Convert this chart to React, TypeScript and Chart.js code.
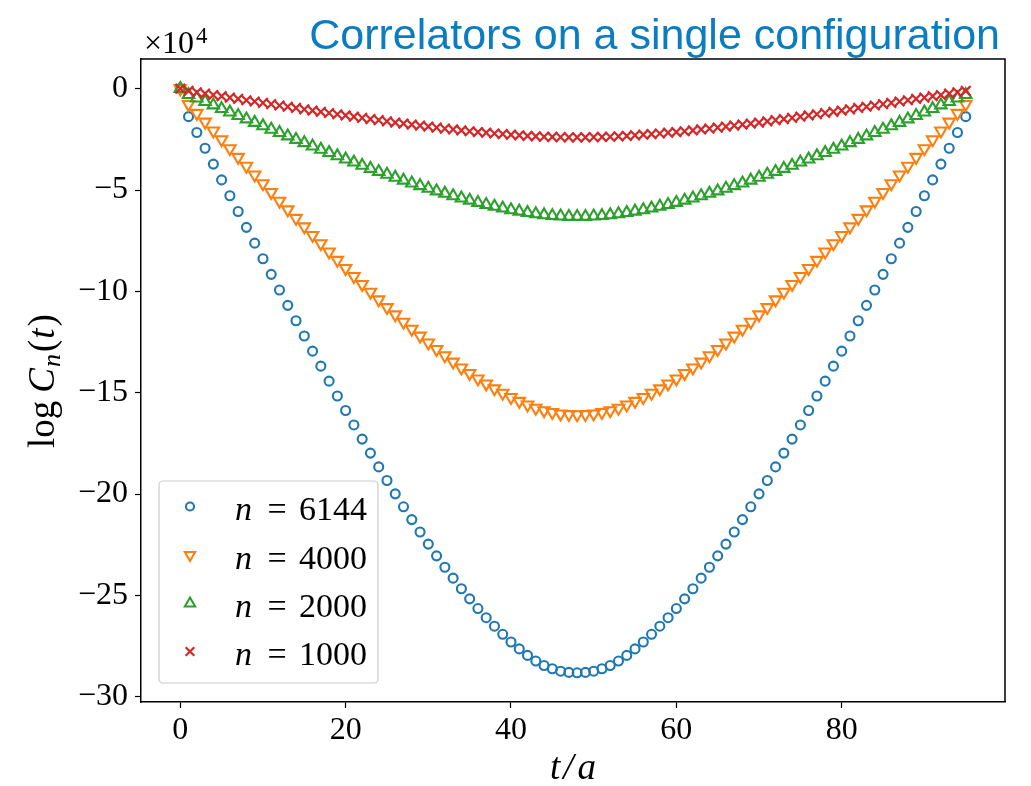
import React, { useEffect, useRef } from "react";
import { Chart, registerables } from "chart.js";
import { drawPoint } from "chart.js/helpers";

Chart.register(...registerables);

// ---------- data (values in units of 10^4) ----------
const T_VALUES = [
  0, 1, 2, 3, 4, 5, 6, 7, 8, 9, 10, 11, 12, 13, 14, 15, 16, 17, 18, 19, 20, 21, 22, 23, 24, 25, 26, 27, 28, 29, 30, 31,
  32, 33, 34, 35, 36, 37, 38, 39, 40, 41, 42, 43, 44, 45, 46, 47, 48, 49, 50, 51, 52, 53, 54, 55, 56, 57, 58, 59, 60, 61, 62, 63,
  64, 65, 66, 67, 68, 69, 70, 71, 72, 73, 74, 75, 76, 77, 78, 79, 80, 81, 82, 83, 84, 85, 86, 87, 88, 89, 90, 91, 92, 93, 94, 95,
];

const N6144 = [
  0, -1.38, -2.16, -2.94, -3.72, -4.5, -5.28, -6.06, -6.84, -7.62, -8.39, -9.16, -9.93, -10.69, -11.45, -12.2,
  -12.95, -13.69, -14.43, -15.16, -15.88, -16.59, -17.29, -17.98, -18.66, -19.33, -19.99, -20.63, -21.26, -21.87, -22.47, -23.05,
  -23.61, -24.15, -24.67, -25.17, -25.65, -26.1, -26.52, -26.92, -27.3, -27.64, -27.96, -28.24, -28.46, -28.62, -28.74, -28.8,
  -28.82, -28.8, -28.74, -28.62, -28.46, -28.24, -27.96, -27.64, -27.3, -26.92, -26.52, -26.1, -25.65, -25.17, -24.67, -24.15,
  -23.61, -23.05, -22.47, -21.87, -21.26, -20.63, -19.99, -19.33, -18.66, -17.98, -17.29, -16.59, -15.88, -15.16, -14.43, -13.69,
  -12.95, -12.2, -11.45, -10.69, -9.93, -9.16, -8.39, -7.62, -6.84, -6.06, -5.28, -4.5, -3.72, -2.94, -2.16, -1.38,
];

const N4000 = [
  0, -0.77, -1.21, -1.64, -2.08, -2.51, -2.95, -3.38, -3.82, -4.25, -4.68, -5.11, -5.54, -5.97, -6.39, -6.81,
  -7.23, -7.64, -8.05, -8.46, -8.86, -9.26, -9.65, -10.03, -10.41, -10.79, -11.15, -11.51, -11.86, -12.2, -12.54, -12.86,
  -13.17, -13.48, -13.77, -14.04, -14.31, -14.56, -14.8, -15.02, -15.23, -15.42, -15.6, -15.76, -15.88, -15.97, -16.04, -16.07,
  -16.08, -16.07, -16.04, -15.97, -15.88, -15.76, -15.6, -15.42, -15.23, -15.02, -14.8, -14.56, -14.31, -14.04, -13.77, -13.48,
  -13.17, -12.86, -12.54, -12.2, -11.86, -11.51, -11.15, -10.79, -10.41, -10.03, -9.65, -9.26, -8.86, -8.46, -8.05, -7.64,
  -7.23, -6.81, -6.39, -5.97, -5.54, -5.11, -4.68, -4.25, -3.82, -3.38, -2.95, -2.51, -2.08, -1.64, -1.21, -0.77,
];

const N2000 = [
  0, -0.3, -0.47, -0.64, -0.81, -0.99, -1.16, -1.33, -1.5, -1.67, -1.84, -2.01, -2.17, -2.34, -2.51, -2.67,
  -2.84, -3.0, -3.16, -3.32, -3.48, -3.63, -3.79, -3.94, -4.09, -4.23, -4.38, -4.52, -4.66, -4.79, -4.92, -5.05,
  -5.17, -5.29, -5.4, -5.51, -5.62, -5.72, -5.81, -5.9, -5.98, -6.05, -6.12, -6.18, -6.23, -6.27, -6.29, -6.31,
  -6.31, -6.31, -6.29, -6.27, -6.23, -6.18, -6.12, -6.05, -5.98, -5.9, -5.81, -5.72, -5.62, -5.51, -5.4, -5.29,
  -5.17, -5.05, -4.92, -4.79, -4.66, -4.52, -4.38, -4.23, -4.09, -3.94, -3.79, -3.63, -3.48, -3.32, -3.16, -3.0,
  -2.84, -2.67, -2.51, -2.34, -2.17, -2.01, -1.84, -1.67, -1.5, -1.33, -1.16, -0.99, -0.81, -0.64, -0.47, -0.3,
];

const N1000 = [
  0, -0.11, -0.18, -0.24, -0.31, -0.37, -0.44, -0.5, -0.57, -0.63, -0.7, -0.76, -0.83, -0.89, -0.95, -1.02,
  -1.08, -1.14, -1.2, -1.26, -1.32, -1.38, -1.44, -1.5, -1.55, -1.61, -1.67, -1.72, -1.77, -1.82, -1.87, -1.92,
  -1.97, -2.01, -2.06, -2.1, -2.14, -2.17, -2.21, -2.24, -2.27, -2.3, -2.33, -2.35, -2.37, -2.38, -2.39, -2.4,
  -2.4, -2.4, -2.39, -2.38, -2.37, -2.35, -2.33, -2.3, -2.27, -2.24, -2.21, -2.17, -2.14, -2.1, -2.06, -2.01,
  -1.97, -1.92, -1.87, -1.82, -1.77, -1.72, -1.67, -1.61, -1.55, -1.5, -1.44, -1.38, -1.32, -1.26, -1.2, -1.14,
  -1.08, -1.02, -0.95, -0.89, -0.83, -0.76, -0.7, -0.63, -0.57, -0.5, -0.44, -0.37, -0.31, -0.24, -0.18, -0.11,
];

const SERIES_N = ["6144", "4000", "2000", "1000"];
const X_TICKS = [0, 20, 40, 60, 80];
const X_TICK_LABELS = ["0", "20", "40", "60", "80"];
const Y_TICKS = [0, -5, -10, -15, -20, -25, -30];
const Y_TICK_LABELS = ["0", "\u22125", "\u221210", "\u221215", "\u221220", "\u221225", "\u221230"];
const TITLE = "Correlators on a single configuration";
const OFFSET_BASE = "\u00d710";
const OFFSET_EXP = "4";

// ---------- styling ----------
const W = 1031;
const H = 786;
const AREA = { left: 141, right: 1005, top: 59, bottom: 702 };
const SERIF = '"Liberation Serif", "DejaVu Serif", serif';
const SANS = '"Liberation Sans", Arial, sans-serif';
const COLORS = ["#1f77b4", "#ff7f0e", "#2ca02c", "#d62728"];
const STYLES = [
  { pointStyle: "circle", rotation: 0, radius: 4.5, borderWidth: 2.1 },
  { pointStyle: "triangle", rotation: 180, radius: 6.6, borderWidth: 2.1 },
  { pointStyle: "triangle", rotation: 0, radius: 6.6, borderWidth: 2.1 },
  { pointStyle: "crossRot", rotation: 0, radius: 6.8, borderWidth: 2.2 },
];
const SERIES = [N6144, N4000, N2000, N1000];

const decorations = {
  id: "decorations",
  afterDraw(chart: any) {
    const ctx = chart.ctx as CanvasRenderingContext2D;
    const a = chart.chartArea;
    ctx.save();
    // frame top & right
    ctx.strokeStyle = "#000";
    ctx.lineWidth = 1.5;
    ctx.beginPath();
    ctx.moveTo(a.left, a.top);
    ctx.lineTo(a.right, a.top);
    ctx.lineTo(a.right, a.bottom);
    ctx.stroke();

    // title
    ctx.fillStyle = "#0a7cc1";
    ctx.font = `43px ${SANS}`;
    ctx.textAlign = "right";
    ctx.textBaseline = "alphabetic";
    ctx.fillText(TITLE, 1000, 49);

    // offset text x10^4
    ctx.fillStyle = "#000";
    ctx.textAlign = "left";
    ctx.font = `32px ${SERIF}`;
    ctx.fillText(OFFSET_BASE, 144, 53);
    const wb = ctx.measureText(OFFSET_BASE).width;
    ctx.font = `23px ${SERIF}`;
    ctx.fillText(OFFSET_EXP, 144 + wb + 2, 43);

    // x label t/a
    ctx.textAlign = "left";
    let xx = 550;
    const xpart = (txt: string, gap: number) => {
      ctx.font = `italic 37px ${SERIF}`;
      ctx.fillText(txt, xx, 779);
      xx += ctx.measureText(txt).width + gap;
    };
    xpart("t", 3);
    xpart("/", 4);
    xpart("a", 0);

    // y label: log C_n(t)
    ctx.save();
    ctx.translate(54, 448);
    ctx.rotate(-Math.PI / 2);
    ctx.textAlign = "left";
    let x = 0;
    const part = (txt: string, font: string, dy = 0, gap = 0) => {
      ctx.font = font;
      ctx.fillText(txt, x, dy);
      x += ctx.measureText(txt).width + gap;
    };
    part("log", `37px ${SERIF}`, 0, 8);
    part("C", `italic 37px ${SERIF}`, 0, 1);
    part("n", `italic 26px ${SERIF}`, 6, 2);
    part("(", `37px ${SERIF}`, 0, 1);
    part("t", `italic 37px ${SERIF}`, 0, 2);
    part(")", `37px ${SERIF}`);
    ctx.restore();

    // legend
    const bx = 159, by = 481, bw = 219, bh = 202;
    ctx.beginPath();
    ctx.roundRect(bx, by, bw, bh, 4);
    ctx.fillStyle = "rgba(255,255,255,0.8)";
    ctx.fill();
    ctx.strokeStyle = "#cccccc";
    ctx.lineWidth = 1.2;
    ctx.stroke();
    const rowBase = [520, 568.5, 617, 665];
    for (let i = 0; i < SERIES_N.length; i++) {
      const st = STYLES[i];
      ctx.strokeStyle = COLORS[i];
      ctx.fillStyle = "rgba(0,0,0,0)";
      ctx.lineWidth = st.borderWidth;
      drawPoint(ctx, { pointStyle: st.pointStyle, rotation: st.rotation, radius: st.radius * 0.9, borderWidth: st.borderWidth } as any, 190, rowBase[i] - 13.5);
      ctx.fillStyle = "#000";
      ctx.textAlign = "left";
      ctx.font = `italic 34px ${SERIF}`;
      ctx.fillText("n", 235, rowBase[i]);
      ctx.textAlign = "center";
      ctx.font = `34px ${SERIF}`;
      ctx.fillText("=", 277, rowBase[i]);
      ctx.textAlign = "left";
      ctx.fillText(SERIES_N[i], 299, rowBase[i]);
    }
    ctx.restore();
  },
};

export default function App() {
  const ref = useRef<HTMLCanvasElement | null>(null);
  useEffect(() => {
    if (!ref.current) return;
    const datasets = SERIES.map((vals, i) => ({
      label: `n = ${SERIES_N[i]}`,
      data: T_VALUES.map((t, j) => ({ x: t, y: vals[j] })),
      showLine: false,
      pointStyle: STYLES[i].pointStyle,
      rotation: STYLES[i].rotation,
      pointRadius: STYLES[i].radius,
      pointBorderWidth: STYLES[i].borderWidth,
      borderColor: COLORS[i],
      backgroundColor: "rgba(0,0,0,0)",
      pointBackgroundColor: "rgba(0,0,0,0)",
      order: 3 - i,
    }));
    const chart = new Chart(ref.current, {
      type: "scatter",
      data: { datasets } as any,
      plugins: [decorations],
      options: {
        responsive: false,
        animation: false,
        devicePixelRatio: 1,
        layout: { padding: { left: 0, top: AREA.top, right: W - AREA.right, bottom: 0 } },
        plugins: { legend: { display: false }, title: { display: false }, tooltip: { enabled: false } },
        scales: {
          x: {
            type: "linear",
            min: -4.75,
            max: 99.75,
            afterFit: (s: any) => {
              s.height = H - AREA.bottom;
            },
            afterBuildTicks: (s: any) => {
              s.ticks = X_TICKS.map((v) => ({ value: v }));
            },
            ticks: {
              callback: (_v: any, i: number) => X_TICK_LABELS[i],
              font: { family: SERIF, size: 32 },
              color: "#000",
              padding: 3,
              maxRotation: 0,
              autoSkip: false,
            },
            grid: { drawOnChartArea: false, drawTicks: true, tickLength: 6, color: "#000", tickWidth: 1.2 },
            border: { display: true, color: "#000", width: 1.5 },
          },
          y: {
            type: "linear",
            min: -30.26,
            max: 1.465,
            afterFit: (s: any) => {
              s.width = AREA.left;
            },
            afterBuildTicks: (s: any) => {
              s.ticks = Y_TICKS.map((v) => ({ value: v }));
            },
            ticks: {
              callback: (_v: any, i: number) => Y_TICK_LABELS[i],
              font: { family: SERIF, size: 32 },
              color: "#000",
              padding: 7,
              autoSkip: false,
            },
            grid: { drawOnChartArea: false, drawTicks: true, tickLength: 6, color: "#000", tickWidth: 1.2 },
            border: { display: true, color: "#000", width: 1.5 },
          },
        },
      } as any,
    });
    return () => chart.destroy();
  }, []);
  return (
    <div style={{ position: "fixed", left: 0, top: 0, width: W, height: H, background: "#fff" }}>
      <canvas ref={ref} width={W} height={H} style={{ display: "block" }} />
    </div>
  );
}
